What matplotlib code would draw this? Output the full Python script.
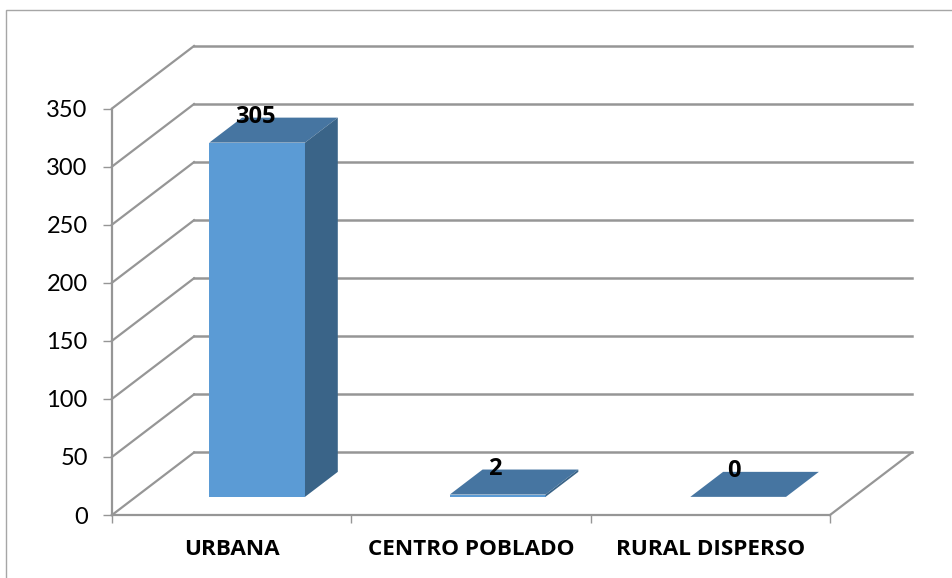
import matplotlib
matplotlib.use("Agg")
import matplotlib.pyplot as plt
from matplotlib.patches import Polygon, Rectangle

plt.rcParams["font.family"] = ["Lato", "DejaVu Sans"]
NEGRITA = ["Open Sans", "DejaVu Sans"]

# datos
categorias = ["URBANA", "CENTRO POBLADO", "RURAL DISPERSO"]
valores = [305, 2, 0]
ticks_y = [0, 50, 100, 150, 200, 250, 300, 350]

GRIS = "#969696"
FRENTE = "#5b9bd5"
TAPA = "#4675a1"
LADO = "#3a6488"

# profundidad del falso 3D, en unidades de los ejes
DX = 82 / 239.3
DY = 62.5 / 1.161
ANCHO = 0.40
D0, D1 = 0.29, 0.69


def proy(x, y, d):
    # lleva un punto con profundidad d (0 frente, 1 fondo) al plano frontal
    return x + d * DX, y + d * DY


fig = plt.figure(figsize=(9.53, 5.78), dpi=100)
fig.add_artist(Rectangle((6 / 953, -0.05), 1.1, (578 - 9.5) / 578 + 0.05,
                         transform=fig.transFigure, fill=False, ec="#a6a6a6", lw=1))

ax = fig.add_axes([112 / 953, 63 / 578, 718 / 953, 406.5 / 578])
ax.set_xlim(0, 3)
ax.set_ylim(0, 350)
ax.patch.set_alpha(0)

# paredes: lineas de fondo y diagonales
for t in ticks_y:
    xb, yb = proy(0, t, 1)
    ax.plot([0, xb], [t, yb], color=GRIS, lw=1.6, clip_on=False, zorder=1)
    ax.plot([xb, proy(3, t, 1)[0]], [yb, yb], color=GRIS, lw=1.8, clip_on=False, zorder=1)
xb, yb = proy(3, 0, 1)
ax.plot([3, xb], [0, yb], color=GRIS, lw=1.6, clip_on=False, zorder=1)

# barras
for i, (nombre, v) in enumerate(zip(categorias, valores)):
    c = 0.507 + i * 1.005
    izq, der = c - ANCHO / 2, c + ANCHO / 2
    base = D0 * DY
    ax.bar(proy(c, 0, D0)[0], v, width=ANCHO, bottom=base, color=FRENTE, zorder=3, clip_on=False)
    tapa = [proy(izq, v, D0), proy(der, v, D0), proy(der, v, D1), proy(izq, v, D1)]
    lado = [proy(der, 0, D0), proy(der, 0, D1), proy(der, v, D1), proy(der, v, D0)]
    ax.add_patch(Polygon(tapa, fc=TAPA, ec="none", zorder=3, clip_on=False))
    ax.add_patch(Polygon(lado, fc=LADO, ec="none", zorder=3, clip_on=False))
    xt, yt = proy(i + 0.5, v, D0)
    ax.annotate(str(v), (xt, yt), xytext=(0, 18.5), textcoords="offset points",
                ha="center", va="center", fontsize=17, fontweight="bold", family=NEGRITA,
                zorder=5, annotation_clip=False)

# ejes
for lado_eje in ["top", "right"]:
    ax.spines[lado_eje].set_visible(False)
for lado_eje in ["left", "bottom"]:
    ax.spines[lado_eje].set_color(GRIS)
    ax.spines[lado_eje].set_linewidth(1.6)
ax.spines["left"].set_zorder(2)

ax.set_yticks(ticks_y)
ax.tick_params(axis="y", length=6.5, width=1, color=GRIS, pad=11, labelsize=17)
ax.set_xticks(range(4))
ax.set_xticklabels([])
ax.tick_params(axis="x", which="major", length=5.8, width=1, color=GRIS)
ax.set_xticks([i + 0.5 for i in range(3)], minor=True)
ax.set_xticklabels(categorias, minor=True, fontsize=16.2, fontweight="bold", family=NEGRITA)
ax.tick_params(axis="x", which="minor", length=0, pad=17)

fig.savefig("out.png", dpi=100)
